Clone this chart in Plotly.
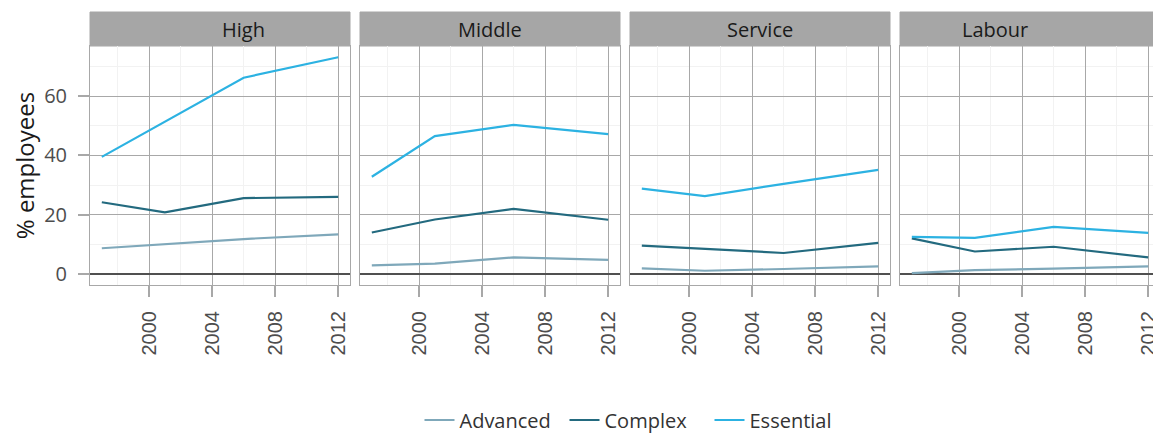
import plotly.graph_objects as go
from plotly.subplots import make_subplots

# Share of employees by skill level, per occupation group
years = [1997, 2001, 2006, 2012]
panels = ["High", "Middle", "Service", "Labour"]

advanced = {
    "High": [8.7, 10.0, 11.8, 13.4],
    "Middle": [2.9, 3.5, 5.6, 4.8],
    "Service": [1.9, 1.1, 1.7, 2.6],
    "Labour": [0.3, 1.3, 1.8, 2.6],
}
complex_ = {
    "High": [24.2, 20.8, 25.6, 26.0],
    "Middle": [14.0, 18.4, 22.0, 18.3],
    "Service": [9.6, 8.5, 7.1, 10.5],
    "Labour": [12.0, 7.6, 9.2, 5.6],
}
essential = {
    "High": [39.5, 51.4, 66.2, 73.1],
    "Middle": [32.8, 46.5, 50.3, 47.2],
    "Service": [28.8, 26.3, 30.4, 35.1],
    "Labour": [12.5, 12.2, 15.9, 13.9],
}

series = [
    ("Advanced", advanced, "#7fa8ba"),
    ("Complex", complex_, "#236a7f"),
    ("Essential", essential, "#2cb2e2"),
]

FONT = "Open Sans"
# page body adds an 8px offset, so layout coords are screen coords minus 8
OFF = 8
W, H = 1161, 460
ML, MR, MT = 90 - OFF, 9, 12 - OFF
plot_bottom = 285 - OFF
MB = H - plot_bottom
pw = W - ML - MR
ph = H - MT - MB
panel_px = [(90, 350), (360, 620), (630, 890), (900, 1160)]
plot_top = 46 - OFF
ytop = (plot_bottom - plot_top) / ph

fig = make_subplots(rows=1, cols=4, shared_yaxes=True)

for i, p in enumerate(panels):
    for name, data, color in series:
        fig.add_trace(
            go.Scatter(
                x=years, y=data[p], mode="lines", name=name,
                line=dict(color=color, width=2.2),
                legendgroup=name, showlegend=(i == 0),
            ),
            row=1, col=i + 1,
        )

grid = "#a8a8a8"
for i, p in enumerate(panels):
    x0, x1 = panel_px[i]
    d0, d1 = (x0 - OFF - ML) / pw, (x1 - OFF - ML) / pw
    xa = "xaxis" if i == 0 else f"xaxis{i + 1}"
    ya = "yaxis" if i == 0 else f"yaxis{i + 1}"
    fig.layout[xa].update(
        domain=[d0, d1], range=[1996.25, 2012.75], automargin=False,
        tick0=2000, dtick=4, tickangle=-90,
        showgrid=True, gridcolor=grid, gridwidth=1,
        minor=dict(dtick=2, showgrid=True, gridcolor="#f2f2f2", gridwidth=1),
        showline=True, mirror=True, linecolor=grid, linewidth=1,
        ticks="outside", ticklen=11, tickcolor=grid, tickwidth=2,
        ticklabelstandoff=6,
        tickfont=dict(family="Liberation Sans", size=20, color="#4d4d4d"),
        zeroline=False,
    )
    fig.layout[ya].update(
        domain=[0, ytop], range=[-3.7, 76.9], automargin=False,
        tick0=0, dtick=20,
        showgrid=True, gridcolor=grid, gridwidth=1,
        minor=dict(dtick=10, showgrid=True, gridcolor="#f2f2f2", gridwidth=1),
        showline=True, mirror=True, linecolor=grid, linewidth=1,
        zeroline=True, zerolinecolor="#505050", zerolinewidth=2,
        showticklabels=(i == 0),
        ticks="outside" if i == 0 else "", ticklen=11, tickcolor=grid, tickwidth=2,
        ticklabelstandoff=7,
        tickfont=dict(family=FONT, size=20, color="#4d4d4d"),
    )
    # strip
    fig.add_shape(
        type="rect", xref="paper", yref="paper",
        x0=d0, x1=d1, y0=ytop, y1=1.0,
        fillcolor="#a6a6a6", line=dict(color="#a6a6a6", width=1), layer="below",
    )
    fig.add_annotation(
        x=(d0 + d1) / 2, y=(ytop + 1) / 2, xref="paper", yref="paper",
        text=p, showarrow=False, yanchor="middle",
        font=dict(family=FONT, size=20, color="#1a1a1a"),
    )

fig.update_yaxes(
    title=dict(text="% employees", font=dict(family=FONT, size=24, color="#1a1a1a"), standoff=2),
    row=1, col=1,
)

fig.update_layout(
    width=W, height=H,
    margin=dict(l=ML, r=MR, t=MT, b=MB),
    paper_bgcolor="white", plot_bgcolor="white",
    font=dict(family=FONT, color="#333333"),
    legend=dict(
        orientation="h", x=(637 - OFF - ML) / pw, xanchor="center",
        y=(plot_bottom - (420 - OFF)) / ph, yanchor="middle",
        font=dict(family=FONT, size=20, color="#333333"),
        entrywidth=100, entrywidthmode="pixels",
        itemwidth=30, tracegroupgap=0,
    ),
)

fig.write_html("out.html")
